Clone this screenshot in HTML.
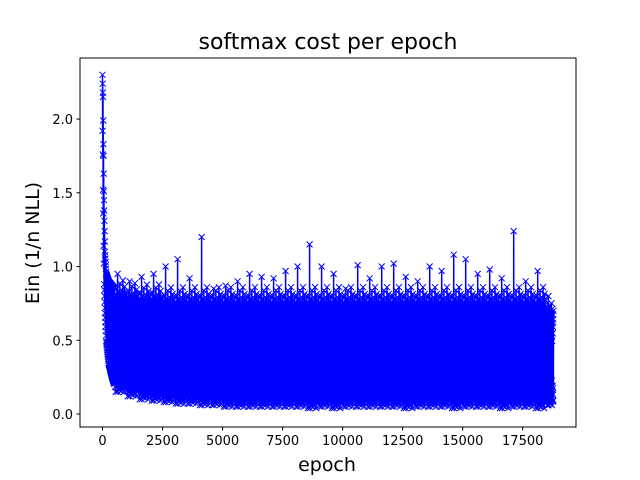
<!DOCTYPE html>
<html><head><meta charset="utf-8"><style>
body{margin:0;background:#fff;}
svg{display:block;font-family:"DejaVu Sans","Liberation Sans",sans-serif;}
</style></head><body>
<svg id="chart" width="640" height="480" viewBox="0 0 640 480">
<rect width="640" height="480" fill="#fff"/>
<text x="328" y="49" font-size="22" text-anchor="middle">softmax cost per epoch</text>
<text x="327" y="471" font-size="19" text-anchor="middle">epoch</text>
<text transform="translate(39,243) rotate(-90)" font-size="19" text-anchor="middle">Ein (1/n NLL)</text>
<g id="plot"></g>
<rect x="80" y="58" width="496" height="369" fill="none" stroke="#000" stroke-width="1"/>
</svg>
<script>
// data
const decayEpochs=[0,20,40,60,100,150,250,400,500];
const decayHigh=[2.3,2.15,1.75,1.45,1.1,0.95,0.9,0.87,0.85];
const decayLow=[2.0,1.6,1.2,0.9,0.7,0.5,0.35,0.25,0.2];
const binStarts=[500,1000,1500,2000,2500,3000,3500,4000,4500,5000,5500,6000,6500,7000,7500,8000,8500,9000,9500,10000,10500,11000,11500,12000,12500,13000,13500,14000,14500,15000,15500,16000,16500,17000,17500,18000,18500];
const binMax=[0.95,0.9,0.93,0.95,1.0,1.05,0.92,1.2,0.85,0.87,0.9,0.95,0.93,0.92,0.97,1.0,1.15,1.0,0.95,0.85,1.01,0.92,1.0,1.02,0.93,0.9,1.0,0.97,1.08,1.05,0.95,0.98,0.92,1.24,0.9,0.97,0.8];
const binHigh=[0.85,0.83,0.82,0.82,0.8,0.8,0.8,0.8,0.8,0.8,0.8,0.8,0.8,0.8,0.8,0.8,0.8,0.8,0.8,0.8,0.8,0.8,0.8,0.8,0.8,0.8,0.8,0.8,0.8,0.8,0.8,0.8,0.8,0.8,0.8,0.8,0.7];
const binLow=[0.15,0.12,0.1,0.09,0.08,0.07,0.07,0.06,0.06,0.05,0.05,0.05,0.05,0.05,0.05,0.05,0.04,0.05,0.04,0.05,0.05,0.05,0.05,0.05,0.04,0.05,0.05,0.05,0.04,0.05,0.05,0.05,0.04,0.05,0.05,0.04,0.06];
const xTicks=[0,2500,5000,7500,10000,12500,15000,17500];
const yTicks=[0.0,0.5,1.0,1.5,2.0];
const lastEpoch=18780;

const X0=80,X1=576,Y0=427,Y1=58;
const xmin=-939,xmax=19719,ymin=-0.088,ymax=2.414;
const sx=v=>X0+(v-xmin)/(xmax-xmin)*(X1-X0);
const sy=v=>Y0-(v-ymin)/(ymax-ymin)*(Y0-Y1);
const NS="http://www.w3.org/2000/svg";
const plot=document.getElementById('plot');
const svg=document.getElementById('chart');

const pts=[];
for(let i=0;i<decayEpochs.length-1;i++){
  const e0=decayEpochs[i],e1=decayEpochs[i+1];
  const n=Math.max(4,Math.round((e1-e0)/4));
  for(let k=0;k<n;k++){
    const t=k/n,e=e0+(e1-e0)*t;
    const hi=decayHigh[i]+(decayHigh[i+1]-decayHigh[i])*t;
    const lo=decayLow[i]+(decayLow[i+1]-decayLow[i])*t;
    pts.push([e,k%2?lo:hi]);
  }
}
const pattern=[1,0.15,0.9,0.05,0.75,0.25,0.95,0,0.6,0.2,0.85,0.1,0.7,0.3,1,0.05,0.8,0.15,0.65,0,0.9,0.25,0.55,0.1,
  0.97,0.02,0.82,0.12,0.92,0.3,0.7,0.04,1.05,0.18,0.88,0.08,0.78,0.22,0.95,0.01,0.85,0.14,0.6,0.06,0.98,0.2,0.8,0.1,
  0.9,0.03,1.08,0.16,0.72,0.09,0.93,0.26,0.84,0.0,0.68,0.12,1.02,0.07,0.87,0.2,0.76,0.04,0.96,0.11,0.83,0.18,0.91,0.05];
binStarts.forEach((s,i)=>{
  const end=Math.min(s+500,lastEpoch);
  const n=pattern.length;
  for(let k=0;k<=n;k++){
    if(k===n && end!==lastEpoch) break;
    const e=s+(end-s)*k/n;
    let v=binLow[i]+(binHigh[i]-binLow[i])*pattern[k%n];
    if(k===18) v=binMax[i];
    pts.push([e,v]);
  }
});
let d='';
pts.forEach((p,i)=>{d+=(i?'L':'M')+sx(p[0]).toFixed(1)+','+sy(p[1]).toFixed(1);});
const line=document.createElementNS(NS,'path');
line.setAttribute('d',d);line.setAttribute('fill','none');line.setAttribute('stroke','#0000ff');line.setAttribute('stroke-width','1.5');


plot.appendChild(line);
let md='';
pts.forEach(p=>{const x=sx(p[0]),y=sy(p[1]);md+=`M${(x-3).toFixed(1)},${(y-3).toFixed(1)}l6,6M${(x-3).toFixed(1)},${(y+3).toFixed(1)}l6,-6`;});
const mk=document.createElementNS(NS,'path');
mk.setAttribute('d',md);mk.setAttribute('stroke','#0000ff');mk.setAttribute('stroke-width','1');mk.setAttribute('fill','none');


plot.appendChild(mk);

xTicks.forEach(t=>{
  const x=sx(t);
  const l=document.createElementNS(NS,'line');
  l.setAttribute('x1',x);l.setAttribute('x2',x);l.setAttribute('y1',Y0);l.setAttribute('y2',Y0+3.5);l.setAttribute('stroke','#000');
  
  
  svg.appendChild(l);
  const tx=document.createElementNS(NS,'text');
  tx.setAttribute('x',x);tx.setAttribute('y',Y0+18);tx.setAttribute('font-size','13');tx.setAttribute('text-anchor','middle');
  tx.textContent=t;
  
  
  svg.appendChild(tx);
});
yTicks.forEach(t=>{
  const y=sy(t);
  const l=document.createElementNS(NS,'line');
  l.setAttribute('x1',X0-3.5);l.setAttribute('x2',X0);l.setAttribute('y1',y);l.setAttribute('y2',y);l.setAttribute('stroke','#000');
  
  
  svg.appendChild(l);
  const tx=document.createElementNS(NS,'text');
  tx.setAttribute('x',X0-7);tx.setAttribute('y',y+5);tx.setAttribute('font-size','13');tx.setAttribute('text-anchor','end');
  tx.textContent=t.toFixed(1);
  
  
  svg.appendChild(tx);
});
</script>
</body></html>
